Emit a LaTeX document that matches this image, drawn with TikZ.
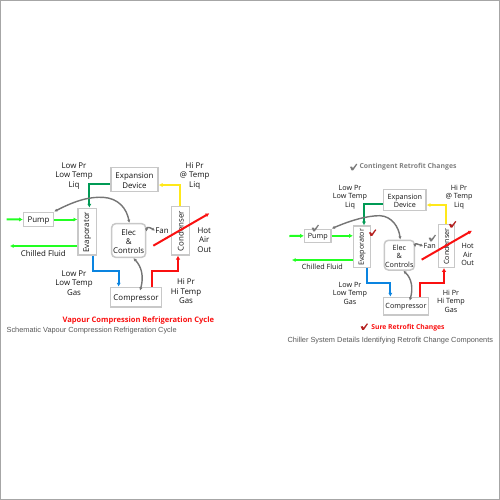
\documentclass[tikz,border=0pt]{standalone}
\usepackage{fontspec}
\setmainfont{Open Sans}
\newfontfamily\capfont{Liberation Sans}
\usetikzlibrary{arrows.meta}
\definecolor{boxgray}{HTML}{C8C8C8}
\definecolor{lime}{HTML}{22FF22}
\definecolor{dgreen}{HTML}{009A55}
\definecolor{yel}{HTML}{FFE81A}
\definecolor{blu}{HTML}{0A84E0}
\definecolor{redl}{HTML}{FA1010}
\definecolor{curve}{HTML}{757575}
\definecolor{chkred}{HTML}{B5201F}
\definecolor{chkgray}{HTML}{7A7A7A}
\newcommand{\pbox}[6]{\node[boxy,minimum width={(#4-#2)*0.02/3*1cm},minimum height={(#5-#3)*0.02/3*1cm}] (#1) at ({(#2+#4)/2},{(#3+#5)/2}) {}; \node[lab] (#1t) at (#1) {#6};}
\newcommand{\rbox}[6]{\node[boxy,rounded corners=0.08cm,minimum width={(#4-#2)*0.02/3*1cm},minimum height={(#5-#3)*0.02/3*1cm}] (#1) at ({(#2+#4)/2},{(#3+#5)/2}) {}; \node[lab] (#1t) at (#1) {#6};}
\newcommand{\vtxt}[1]{\raisebox{0.02cm}{\rotatebox{90}{#1}}}
\newcommand{\chk}[4]{\fill[#3,shift={(#1,#2)},scale=#4] (0,10)--(6,9)--(9,14)--(20,0)--(23,2)--(10,21)--(5,21)--cycle;}
\tikzset{
  x=0.02cm/3,y=-0.02cm/3,
  boxy/.style={draw=boxgray,line width=0.03cm,fill=white,inner sep=0pt},
  lab/.style={align=center,text=black!92,inner sep=0pt,yshift=-0.02cm},
  bigt/.style={lab,font=\fontsize{4.5pt}{5.35pt}\selectfont},
  smallt/.style={lab,font=\fontsize{4.1pt}{4.9pt}\selectfont},
  flow/.style={line width=0.04cm,-{Latex[length=0.075cm,width=0.085cm]}},
  flowr/.style={line width=0.045cm,-{Latex[length=0.075cm,width=0.09cm]}},
  ctl/.style={draw=curve,line width=0.028cm,{Latex[length=0.065cm,width=0.065cm]}-{Latex[length=0.065cm,width=0.065cm]}},
}
\begin{document}
\begin{tikzpicture}
\useasboundingbox (0,0) rectangle (1500,1500);
\fill[white] (0,0) rectangle (1500,1500);
\draw[color=black!35,line width=0.02cm] (1.5,1.5) rectangle (1498.5,1498.5);
% left diagram
\begin{scope}[every node/.append style={font=\fontsize{4.5pt}{5.35pt}\selectfont}]
\pbox{lpump}{71}{637}{160}{680}{Pump}
\pbox{levap}{234}{625}{290}{765}{\vtxt{Evaporator}}
\pbox{lexp}{333}{503}{474}{575}{Expansion\\Device}
\rbox{lelec}{335}{671}{437}{772}{Elec\\\&\\Controls}
\pbox{lcond}{515}{620}{569}{765}{\vtxt{Condenser}}
\pbox{lcomp}{332}{862}{484}{921}{Compressor}
\end{scope}
\coordinate (lin) at (20,658);
\coordinate (lout) at (30,738);
\coordinate (lhot0) at (460,737);
\coordinate (lhot1) at (628,640);
\node[bigt] (lt1) at (222,525) {Low Pr\\Low Temp\\Liq};
\node[bigt] (lt2) at (584,525) {Hi Pr\\@ Temp\\Liq};
\node[bigt] (lfan) at (486,689) {Fan};
\node[bigt] (lt3) at (613,717) {Hot\\Air\\Out};
\node[bigt] (lt4) at (130,759) {Chilled Fluid};
\node[bigt] (lt5) at (222,846) {Low Pr\\Low Temp\\Gas};
\node[bigt] (lt6) at (558,871) {Hi Pr\\Hi Temp\\Gas};
\node[lab,font=\fontsize{4.3pt}{5pt}\selectfont\bfseries,text=redl] (lt7) at (415,959) {Vapour Compression Refrigeration Cycle};
\node[lab,font=\capfont\fontsize{4.2pt}{5pt}\selectfont,text=black!65] (lt8) at (275,988) {Schematic Vapour Compression Refrigeration Cycle};
\draw[flow,lime] (lin) -- (lpump.west);
\draw[flow,lime] (lpump.east) -- (levap.west |- lpump.east);
\draw[flow,lime] (levap.west |- lout) -- (lout);
\draw[flow,dgreen] (lexp.west |- 0,553) -| (levap.north -| 268,0);
\draw[flow,yel] (lcond.north -| 541,0) |- (lexp.east |- 0,555);
\draw[flow,blu] (levap.south -| 279,0) |- (356,812) -- (lcomp.north -| 356,0);
\draw[flowr,redl] (lcomp.north -| 456,0) |- (534,813) -- (lcond.south -| 534,0);
\draw[flow,redl] (lhot0) -- (lhot1);
\draw[ctl] (lpump.north east) .. controls (230,600) and (270,590) .. (310,592) .. controls (355,595) and (380,625) .. (lelec.north -| 388,0);
\draw[ctl] (lelec.south -| 400,0) .. controls (425,800) and (432,830) .. (420,872);
\draw[ctl] (lelec.east |- 0,695) .. controls (440,680) and (450,682) .. (lfan.west);
% right diagram
\begin{scope}[every node/.append style={font=\fontsize{4.1pt}{4.9pt}\selectfont}]
\pbox{rpump}{914}{688}{993}{727}{Pump}
\pbox{revap}{1061}{678}{1112}{803}{\vtxt{Evaporator}}
\pbox{rexp}{1151}{568}{1278}{632}{Expansion\\Device}
\rbox{relec}{1153}{721}{1243}{810}{Elec\\\&\\Controls}
\pbox{rcond}{1315}{674}{1364}{802}{\vtxt{Condenser}}
\pbox{rcomp}{1150}{892}{1286}{945}{Compressor}
\end{scope}
\coordinate (rin) at (868,708);
\coordinate (rout) at (876,780);
\coordinate (rhot0) at (1265,779);
\coordinate (rhot1) at (1416,692);
\node[smallt] (rt1) at (1050,588) {Low Pr\\Low Temp\\Liq};
\node[smallt] (rt2) at (1377,588) {Hi Pr\\@ Temp\\Liq};
\node[smallt] (rfan) at (1289,736) {Fan};
\node[smallt] (rt3) at (1403,761) {Hot\\Air\\Out};
\node[smallt] (rt4) at (967,798) {Chilled Fluid};
\node[smallt] (rt5) at (1050,877) {Low Pr\\Low Temp\\Gas};
\node[smallt] (rt6) at (1353,900) {Hi Pr\\Hi Temp\\Gas};
\node[lab,font=\fontsize{3.9pt}{5pt}\selectfont\bfseries,text=black!50] (rt7) at (1224,498) {Contingent Retrofit Changes};
\node[lab,font=\fontsize{3.85pt}{5pt}\selectfont\bfseries,text=redl] (rt8) at (1224,980) {Sure Retrofit Changes};
\node[lab,font=\capfont\fontsize{4.2pt}{5pt}\selectfont,text=black!65] (rt9) at (1171,1019) {Chiller System Details Identifying Retrofit Change Components};
\draw[flow,lime] (rin) -- (rpump.west);
\draw[flow,lime] (rpump.east) -- (revap.west |- rpump.east);
\draw[flow,lime] (revap.west |- rout) -- (rout);
\draw[flow,dgreen] (rexp.west |- 0,612) -| (revap.north -| 1092,0);
\draw[flow,yel] (rcond.north -| 1339,0) |- (rexp.east |- 0,615);
\draw[flow,blu] (revap.south -| 1102,0) |- (1171,848) -- (rcomp.north -| 1171,0);
\draw[flowr,redl] (rcomp.north -| 1261,0) |- (1332,848) -- (rcond.south -| 1332,0);
\draw[flow,redl] (rhot0) -- (rhot1);
\draw[ctl] (rpump.north east) .. controls (1050,662) and (1100,647) .. (1140,647) .. controls (1175,649) and (1196,680) .. (relec.north -| 1201,0);
\draw[ctl] (relec.south -| 1210,0) .. controls (1235,835) and (1240,865) .. (1229,902);
\draw[ctl] (relec.east |- 0,742) .. controls (1245,730) and (1255,732) .. (rfan.west);
% check marks
\chk{1050}{491}{chkgray}{0.95}
\chk{935}{674}{chkgray}{0.95}
\chk{1286}{704}{chkgray}{0.95}
\chk{1107}{688}{chkred}{0.95}
\chk{1347}{663}{chkred}{0.95}
\chk{1082}{970}{chkred}{0.95}
\end{tikzpicture}
\end{document}
